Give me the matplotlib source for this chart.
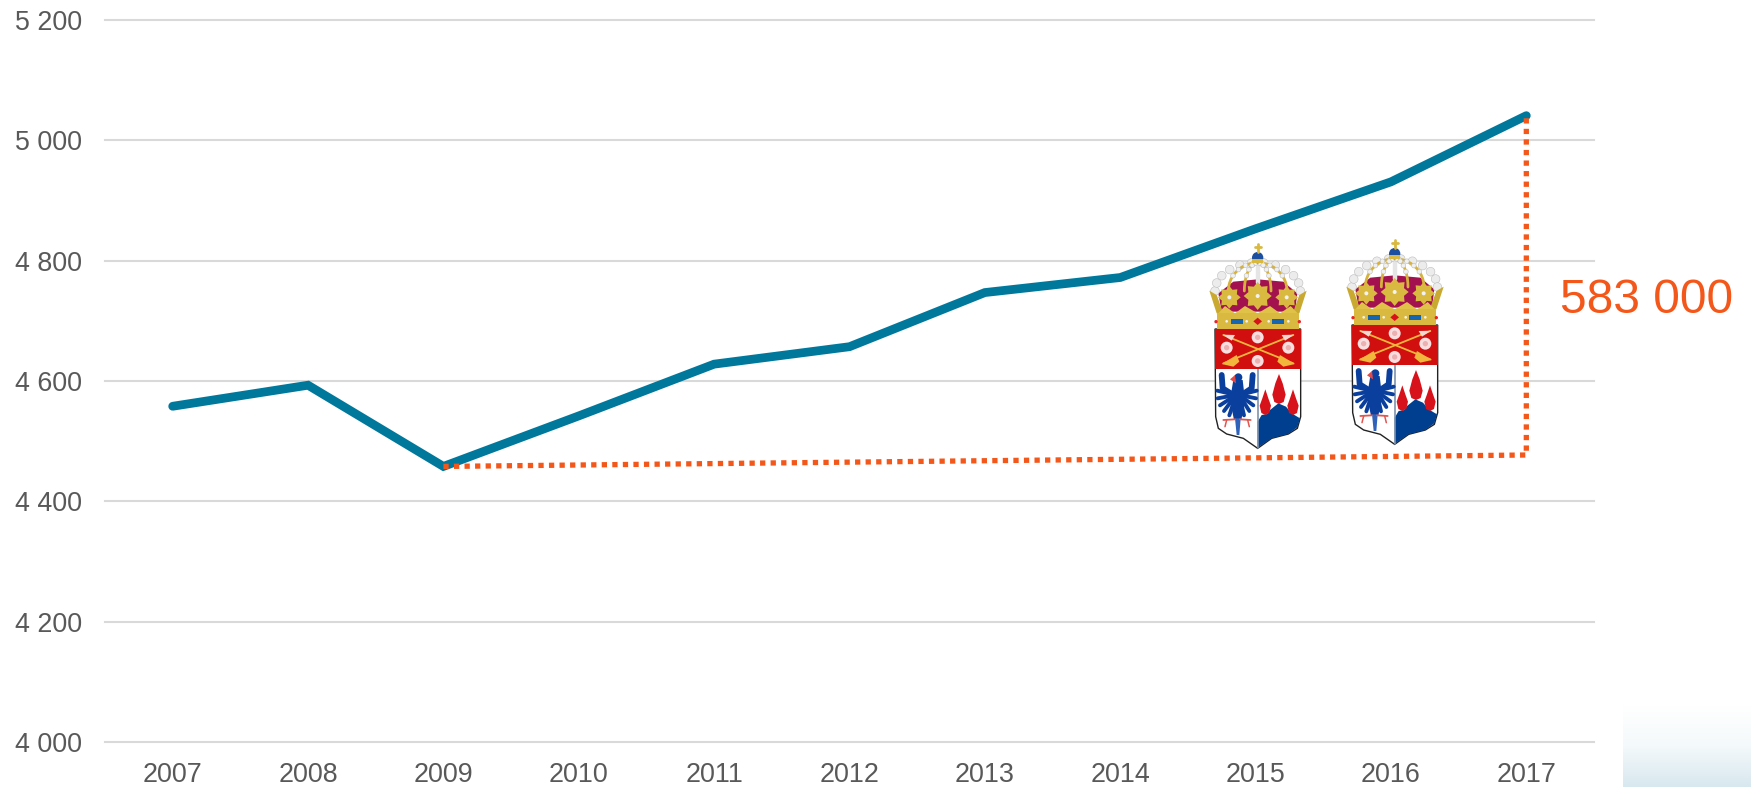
import numpy as np
import matplotlib
matplotlib.use('Agg')
import matplotlib.pyplot as plt
from matplotlib.colors import LinearSegmentedColormap
from matplotlib.patches import Polygon, Circle, Rectangle

plt.rcParams['font.family'] = ['Liberation Sans', 'DejaVu Sans']

# Data
years = [2007, 2008, 2009, 2010, 2011, 2012, 2013, 2014, 2015, 2016, 2017]
values = [4558, 4593, 4458, 4542, 4628, 4657, 4747, 4772, 4853, 4931, 5041]
y_ticks = [4000, 4200, 4400, 4600, 4800, 5000, 5200]
y_labels = ['4 000', '4 200', '4 400', '4 600', '4 800', '5 000', '5 200']
trend_years = [2009, 2017, 2017]
trend_values = [4458, 4477, 5041]
trend_label = '583 000'

W, H = 1751, 787
BLUE = '#00789C'
ORANGE = '#F4571A'
GREY = '#595959'

fig = plt.figure(figsize=(W / 100, H / 100), dpi=100, facecolor='white')
ax = fig.add_axes([105 / W, 1 - 742 / H, 1489 / W, 722 / H])

ax.set_xlim(2006.5, 2017.5)
ax.set_ylim(4000, 5200)
ax.set_xticks(years)
ax.set_yticks(y_ticks)
ax.set_yticklabels(y_labels)
ax.tick_params(axis='both', length=0, labelsize=19.4, labelcolor=GREY)
ax.tick_params(axis='x', pad=14.5)
ax.tick_params(axis='y', pad=16.5)
ax.grid(True, axis='y', color='#D9D9D9', linewidth=1.5, zorder=0)
ax.set_axisbelow(True)
for name, spine in ax.spines.items():
    spine.set_visible(False)
for line in ax.get_ygridlines():
    line.set_clip_on(False)

ax.plot(years, values, color=BLUE, linewidth=6.3, solid_capstyle='round',
        solid_joinstyle='miter', zorder=3)
ax.plot(trend_years, trend_values, color=ORANGE, linewidth=3.8,
        linestyle=(0, (1, 1.0)), dash_capstyle='butt', zorder=4)
ax.text(2017.25, 4733, trend_label, color=ORANGE, fontsize=34.5, va='center', ha='left')

# Overlay in pixel coordinates for the decoration
over = fig.add_axes([0, 0, 1, 1], facecolor='none')
over.set_xlim(0, W)
over.set_ylim(H, 0)
over.axis('off')

# Pale gradient in the lower right corner
fade = LinearSegmentedColormap.from_list('fade', ['#FFFFFF', '#F4F9FB', '#D8E8EF'])
over.imshow(np.linspace(0, 1, 82).reshape(-1, 1), cmap=fade, aspect='auto',
            extent=(1623, W, H, 705), zorder=1)
over.set_xlim(0, W)
over.set_ylim(H, 0)


# Coat of arms, shapes sketched in a local 3x grid
def draw_crest(dx, dy):
    def p(x, y):
        return (1180 + x / 3 + dx, 220 + y / 3 + dy)

    def poly(points, color, z=5, **kw):
        over.add_patch(Polygon([p(*q) for q in points], closed=True, facecolor=color,
                               edgecolor=kw.get('edge', 'none'), linewidth=kw.get('lw', 0), zorder=z))

    def line(points, color, lw, z=6):
        pts = [p(*q) for q in points]
        over.plot([q[0] for q in pts], [q[1] for q in pts], color=color, linewidth=lw,
                  solid_capstyle='round', zorder=z)

    def dot(x, y, r, color, z=6, edge='none'):
        over.add_patch(Circle(p(x, y), r / 3, facecolor=color, edgecolor=edge, linewidth=0.4, zorder=z))

    def rect(x0, y0, x1, y1, color, z=5):
        a = p(x0, y0)
        over.add_patch(Rectangle(a, (x1 - x0) / 3, (y1 - y0) / 3, facecolor=color,
                                 edgecolor='none', zorder=z))

    # shield
    outline = [(105, 327), (362, 327), (362, 590), (352, 625), (325, 642), (275, 655), (233, 685),
               (190, 655), (140, 642), (115, 625), (107, 590)]
    poly(outline, 'white', z=5, edge='#222222', lw=1.0)
    poly([(233, 605), (233, 683), (275, 655), (325, 642), (352, 622), (360, 595), (335, 580), (318, 560),
          (295, 550), (270, 570), (262, 582), (245, 585)], '#003F8F', z=6)
    for fx, top, bot, hw in [(297, 462, 552, 20), (256, 508, 585, 17), (339, 508, 585, 17)]:
        poly([(fx, top), (fx + hw * 0.55, top + 28), (fx + hw, bot - 28), (fx + hw * 0.7, bot - 6),
              (fx, bot), (fx - hw * 0.7, bot - 6), (fx - hw, bot - 28), (fx - hw * 0.55, top + 28)],
             '#D8121A', z=6)
    line([(233, 447), (233, 683)], '#7F93AD', 1.2, z=7)
    rect(105, 327, 362, 447, '#D20F0F', z=7)

    # arrows and roses in the red field
    line([(130, 345), (340, 430)], '#F3B63C', 1.3, z=8)
    line([(340, 345), (130, 430)], '#F3B63C', 1.3, z=8)
    poly([(128, 344), (165, 345), (155, 362)], '#F4D9D0', z=8)
    poly([(342, 344), (305, 345), (315, 362)], '#F4D9D0', z=8)
    poly([(125, 432), (170, 405), (178, 425), (160, 440)], '#F3B63C', z=8)
    poly([(345, 432), (300, 405), (292, 425), (310, 440)], '#F3B63C', z=8)
    for rx, ry in [(233, 352), (140, 383), (325, 383), (233, 423)]:
        dot(rx, ry, 18, '#F8DEDE', z=9)
        dot(rx, ry, 8, '#EDB0B0', z=9)

    # eagle
    for tip in [(112, 512), (113, 535), (120, 556), (132, 573), (148, 586)]:
        line([(168, 525), tip], '#0A3F9E', 2.8, z=8)
    for tip in [(230, 512), (228, 535), (220, 556), (208, 573), (192, 586)]:
        line([(178, 525), tip], '#0A3F9E', 2.8, z=8)
    line([(125, 465), (128, 505), (165, 528)], '#0A3F9E', 4.2, z=8)
    line([(218, 465), (215, 505), (180, 528)], '#0A3F9E', 4.2, z=8)
    poly([(160, 480), (188, 480), (195, 540), (184, 600), (162, 600), (150, 540)], '#0A3F9E', z=8)
    poly([(165, 595), (182, 595), (178, 645), (170, 645)], '#2F62B8', z=8)
    dot(175, 472, 12, '#0A3F9E', z=8)
    poly([(165, 465), (150, 478), (168, 490)], '#E24A4A', z=9)
    line([(130, 600), (165, 598)], '#E2554F', 1.3, z=8)
    line([(212, 600), (180, 598)], '#E2554F', 1.3, z=8)
    line([(140, 600), (135, 620)], '#E2554F', 1.1, z=8)
    line([(203, 600), (208, 620)], '#E2554F', 1.1, z=8)

    # crown
    poly([(125, 275), (115, 220), (160, 185), (233, 178), (310, 185), (352, 220), (345, 275)], '#A3124F', z=5)
    t = np.linspace(np.pi, 0, 23)
    for k, (rx, ry) in enumerate([(128, 85), (88, 85), (40, 85)]):
        xs = 233 + rx * np.cos(t)
        ys = 213 - ry * np.sin(t)
        if k > 0:
            line(list(zip(xs, ys)), '#D6B23C', 2.0, z=7)
        for x, y in zip(xs[::2], ys[::2]):
            if k == 0:
                dot(x, y, 13, '#ECECEC', z=6, edge='#BDBDBD')
            elif y < 185:
                dot(x, y, 7, '#F0F0F0', z=8, edge='#BDBDBD')
    line([(233, 128), (233, 190)], '#E5E5E5', 3.2, z=7)
    for cx, cy, r in [(233, 228, 42), (148, 232, 34), (320, 232, 34)]:
        pts = []
        for j in range(16):
            ang = j * np.pi / 8
            rr = r if j % 2 == 0 else r * 0.72
            pts.append((cx + rr * np.cos(ang), cy + rr * np.sin(ang)))
        poly(pts, '#D9B93F', z=8)
        dot(cx, cy, 6, '#F2F2F2', z=9)
    poly([(88, 212), (110, 225), (130, 280), (110, 280)], '#C9A92F', z=7)
    poly([(380, 212), (358, 225), (338, 280), (358, 280)], '#C9A92F', z=7)
    poly([(110, 285), (135, 258), (165, 280), (195, 258), (233, 280), (270, 258), (300, 280),
          (332, 258), (358, 285)], '#E0C248', z=8)
    rect(110, 280, 358, 327, '#D9B93F', z=8)
    rect(152, 298, 190, 311, '#1565B0', z=9)
    rect(276, 298, 312, 311, '#1565B0', z=9)
    poly([(233, 293), (246, 304), (233, 315), (220, 304)], '#D8121A', z=9)
    dot(108, 305, 5, '#E8242A', z=9)
    dot(358, 305, 5, '#E8242A', z=9)
    for gx in [140, 200, 266, 325]:
        dot(gx, 304, 4, '#F2F2F2', z=9)

    # orb and cross
    dot(233, 113, 17, '#1C4FA0', z=8)
    rect(217, 118, 250, 128, '#D9B93F', z=9)
    line([(233, 72), (233, 97)], '#D9B93F', 2.0, z=9)
    line([(224, 82), (243, 82)], '#D9B93F', 2.0, z=9)


draw_crest(0, 0)
draw_crest(137, -4)

fig.savefig('out.png', dpi=100)
